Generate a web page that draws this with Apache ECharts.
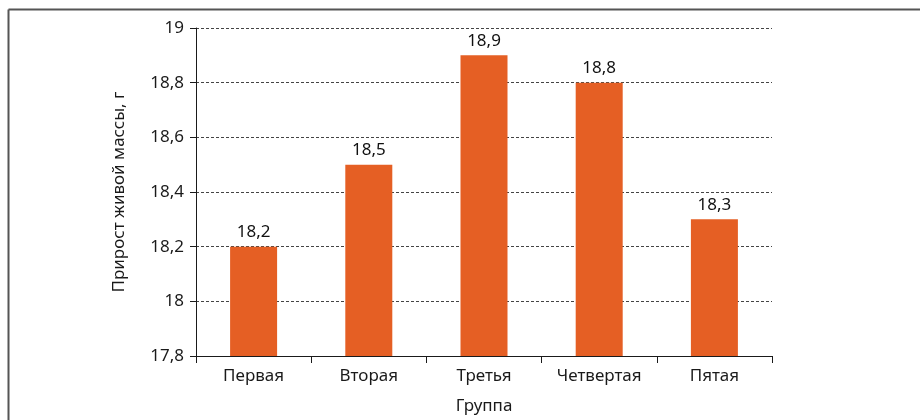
<!DOCTYPE html>
<html>
<head>
<meta charset="utf-8">
<script src="https://cdn.jsdelivr.net/npm/echarts@6/dist/echarts.min.js"></script>
<style>
  html, body { margin: 0; padding: 0; background: #fff; }
  #chart { width: 920px; height: 420px; }
</style>
</head>
<body>
<div id="chart"></div>
<script>
const groups = ['Первая', 'Вторая', 'Третья', 'Четвертая', 'Пятая']
const gain = [18.2, 18.5, 18.9, 18.8, 18.3]
const yMin = 17.8
const yMax = 19
const yStep = 0.2

const comma = v => String(+(+v).toFixed(1)).replace('.', ',')
const font = 'Noto Sans'

const chart = echarts.init(document.getElementById('chart'))
chart.setOption({
  animation: false,
  textStyle: { fontFamily: font },
  // frame: only top and left edges are visible in the picture
  graphic: [
    { type: 'line', shape: { x1: 8.5, y1: 9.5, x2: 920, y2: 9.5 }, style: { stroke: '#555', lineWidth: 2 } },
    { type: 'line', shape: { x1: 8.5, y1: 9.5, x2: 8.5, y2: 420 }, style: { stroke: '#555', lineWidth: 2 } }
  ],
  grid: { left: 196, right: 148, top: 28, bottom: 64 },
  xAxis: {
    type: 'category',
    data: groups,
    name: 'Группа',
    nameLocation: 'middle',
    nameGap: 42,
    nameTextStyle: { fontSize: 17, color: '#1a1a1a', fontFamily: font },
    axisLine: { lineStyle: { color: '#1a1a1a', width: 1 } },
    axisTick: { show: true, alignWithLabel: false, length: 7, lineStyle: { color: '#1a1a1a' } },
    axisLabel: { fontSize: 17, color: '#1a1a1a', margin: 12, fontFamily: font }
  },
  yAxis: {
    type: 'value',
    min: yMin,
    max: yMax,
    interval: yStep,
    name: 'Прирост живой массы, г',
    nameLocation: 'middle',
    nameGap: 68,
    nameTextStyle: { fontSize: 17, color: '#1a1a1a', fontFamily: font },
    axisLine: { show: true, lineStyle: { color: '#1a1a1a', width: 1 } },
    axisTick: { show: true, length: 6, lineStyle: { color: '#1a1a1a' } },
    axisLabel: { fontSize: 17, color: '#1a1a1a', margin: 12, fontFamily: font, formatter: comma },
    splitLine: { show: true, lineStyle: { color: '#444', type: [3, 2], width: 1 } }
  },
  series: [
    {
      type: 'bar',
      data: gain,
      barWidth: 47,
      barCategoryGap: '59%',
      itemStyle: { color: '#E55F24' },
      label: {
        show: true,
        position: 'top',
        distance: 6,
        fontSize: 17,
        color: '#111',
        fontFamily: font,
        formatter: p => comma(p.value)
      }
    }
  ]
})
</script>
</body>
</html>
